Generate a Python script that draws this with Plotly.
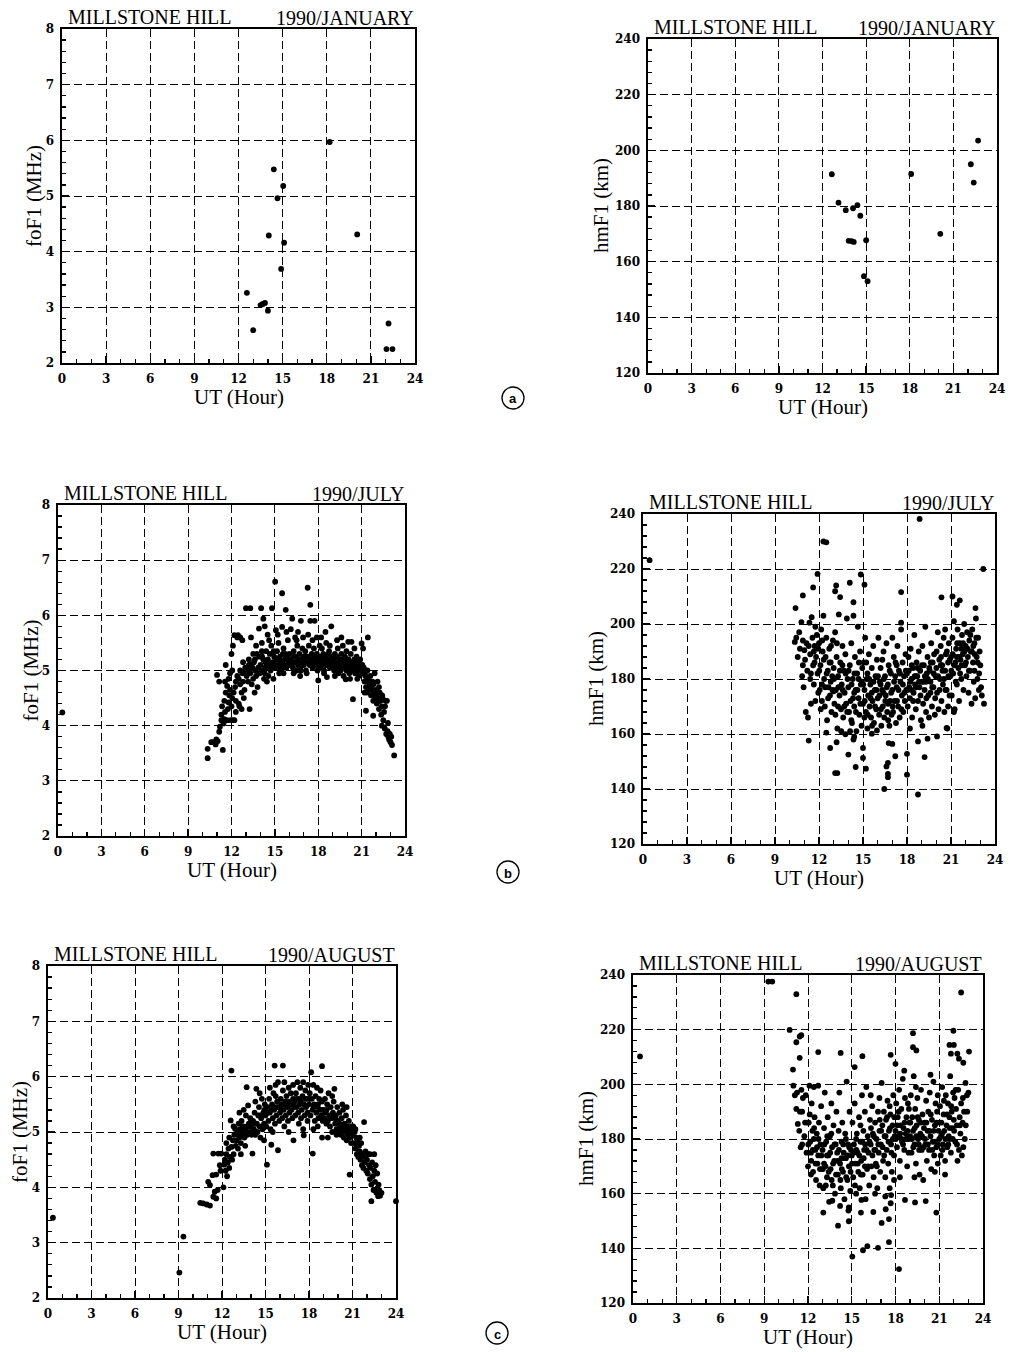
import plotly.graph_objects as go

W, H = 1012, 1352

# ---------------- DATA (UT hour, value) ----------------
JAN_FOF1 = [(18.2, 5.97), (14.4, 5.48), (15.04, 5.18), (14.65, 4.96), (14.06, 4.29),
            (15.1, 4.16), (20.07, 4.31), (14.9, 3.69), (12.57, 3.26), (13.5, 3.04),
            (13.65, 3.06), (13.8, 3.08), (14.0, 2.94), (13.0, 2.59), (22.2, 2.71),
            (22.06, 2.25), (22.47, 2.25)]

JAN_HMF1 = [(12.64, 191.4), (13.1, 181.2), (13.6, 178.5), (14.1, 179.2), (14.4, 180.3),
            (14.6, 176.5), (13.8, 167.5), (14.0, 167.4), (14.15, 167.1), (15.0, 167.7),
            (14.85, 154.8), (15.1, 153.0), (18.1, 191.5), (20.1, 170.0), (22.2, 195.0),
            (22.4, 188.4), (22.7, 203.5)]

JUL_FOF1 = [
    (0.3, 4.24),
    (10.35, 3.58), (10.35, 3.41), (10.6, 3.70), (10.75, 3.70), (10.9, 3.66), (10.95, 3.75),
    (11.05, 3.72), (11.15, 3.89), (11.2, 3.98), (11.3, 4.10), (11.4, 3.56), (11.3, 4.20),
    (11.35, 4.35), (11.15, 4.80), (11.0, 4.92),
    (11.45, 4.04), (11.5, 4.12), (11.55, 4.25), (11.5, 4.45), (11.6, 4.60), (11.55, 4.80),
    (11.7, 4.10), (11.75, 4.30), (11.8, 4.42), (11.85, 4.55), (11.9, 4.65), (11.7, 4.72),
    (11.8, 4.85), (11.9, 4.95), (11.95, 4.10), (12.0, 4.35), (12.05, 4.50), (12.0, 5.30),
    (12.1, 5.45), (12.05, 5.00), (11.6, 5.10),
    (12.1, 4.10), (12.2, 4.10), (12.3, 4.25), (12.15, 4.60), (12.25, 4.70), (12.3, 4.80),
    (12.4, 4.90), (12.5, 4.85), (12.6, 4.75), (12.7, 4.60), (12.5, 4.40), (12.55, 4.35),
    (12.6, 5.00), (12.75, 4.95), (12.8, 4.80), (12.85, 4.50), (12.9, 4.65), (12.95, 5.05),
    (12.4, 5.60), (12.6, 5.60), (12.75, 5.55), (12.8, 5.15), (12.2, 5.64), (12.45, 5.64),
    (12.3, 4.45), (12.7, 4.30), (12.9, 4.95),
    (13.0, 6.13), (13.3, 6.13), (13.05, 4.90), (13.1, 5.00), (13.15, 4.80), (13.2, 5.10),
    (13.25, 4.30), (13.3, 4.95), (13.4, 4.75), (13.45, 5.05), (13.5, 4.85), (13.55, 5.15),
    (13.6, 4.60), (13.65, 5.00), (13.7, 4.90), (13.75, 5.30), (13.8, 4.70), (13.85, 5.05),
    (13.9, 5.76), (13.95, 4.95), (13.5, 5.30), (13.35, 5.60), (13.2, 5.20), (13.7, 5.45),
    (14.0, 5.10), (13.12, 5.05), (13.32, 5.10), (13.62, 5.20), (13.92, 5.25),
    (14.05, 6.13), (14.2, 5.94), (14.1, 5.50), (14.15, 5.00), (14.2, 5.20), (14.3, 4.95),
    (14.35, 5.15), (14.4, 5.35), (14.45, 5.05), (14.5, 5.65), (14.55, 4.90), (14.6, 5.10),
    (14.65, 5.30), (14.7, 5.00), (14.75, 5.45), (14.8, 6.13), (14.85, 5.15), (14.9, 5.05),
    (14.95, 5.25), (14.3, 5.80), (14.6, 5.55), (14.25, 4.85), (14.45, 4.80), (14.9, 4.85),
    (14.1, 5.35), (14.12, 5.25), (14.32, 5.05), (14.52, 5.20), (14.72, 5.10), (14.92, 5.35),
    (15.02, 6.61), (15.07, 5.73), (15.1, 5.20), (15.15, 5.35), (15.2, 5.05), (15.25, 5.50),
    (15.3, 5.10), (15.35, 5.25), (15.4, 5.15), (15.45, 5.00), (15.5, 6.40), (15.5, 5.79),
    (15.55, 5.30), (15.6, 5.40), (15.65, 5.10), (15.7, 5.20), (15.75, 6.10), (15.8, 5.05),
    (15.85, 5.25), (15.9, 5.55), (15.95, 5.15), (15.3, 4.95), (15.6, 4.95), (15.2, 5.65),
    (15.8, 5.70), (15.12, 5.10), (15.32, 5.20), (15.52, 5.05), (15.72, 5.30), (15.92, 5.10),
    (16.0, 5.30), (16.05, 5.10), (16.1, 5.20), (16.2, 5.94), (16.25, 5.05), (16.3, 5.35),
    (16.35, 5.15), (16.4, 5.60), (16.45, 5.25), (16.5, 5.00), (16.55, 5.45), (16.6, 5.10),
    (16.65, 5.20), (16.7, 5.30), (16.8, 5.90), (16.8, 5.00), (16.85, 5.15), (16.9, 5.40),
    (16.95, 5.25), (16.1, 5.75), (16.6, 5.70), (16.3, 4.95), (16.75, 4.90), (16.5, 5.55),
    (16.95, 5.60), (16.12, 5.15), (16.32, 5.25), (16.52, 5.15), (16.72, 5.05), (16.92, 5.10),
    (17.0, 5.10), (17.05, 5.20), (17.1, 5.35), (17.15, 5.00), (17.2, 5.15), (17.27, 6.50),
    (17.3, 5.25), (17.35, 5.45), (17.4, 5.10), (17.45, 6.19), (17.45, 5.90), (17.5, 5.20),
    (17.55, 5.30), (17.6, 5.05), (17.65, 5.15), (17.75, 5.90), (17.7, 5.40), (17.8, 5.20),
    (17.85, 5.10), (17.9, 5.30), (17.95, 5.00), (17.3, 5.65), (17.6, 5.55), (17.9, 5.60),
    (17.2, 4.95), (17.12, 5.25), (17.32, 5.15), (17.52, 5.10), (17.72, 5.25), (17.92, 5.15),
    (18.0, 4.82), (18.05, 5.15), (18.1, 5.25), (18.15, 5.05), (18.2, 5.20), (18.25, 5.40),
    (18.3, 5.10), (18.35, 5.30), (18.4, 5.00), (18.45, 5.15), (18.5, 5.25), (18.55, 5.50),
    (18.6, 4.88), (18.65, 5.10), (18.7, 5.20), (18.75, 5.35), (18.8, 5.05), (18.85, 5.15),
    (18.9, 5.80), (18.95, 5.25), (18.2, 5.60), (18.5, 5.70), (18.4, 4.95), (18.8, 5.45),
    (18.1, 5.45), (18.12, 5.10), (18.32, 5.20), (18.52, 5.10), (18.72, 5.30), (18.92, 5.10),
    (19.0, 5.10), (19.05, 5.20), (19.1, 5.00), (19.15, 5.30), (19.2, 5.15), (19.25, 5.05),
    (19.3, 5.25), (19.35, 5.40), (19.4, 4.95), (19.45, 5.10), (19.5, 5.20), (19.55, 5.00),
    (19.6, 5.30), (19.65, 5.10), (19.7, 5.45), (19.75, 5.05), (19.8, 5.15), (19.85, 5.25),
    (19.9, 4.84), (19.95, 5.00), (19.3, 5.55), (19.6, 5.60), (19.15, 4.90), (19.75, 4.90),
    (19.95, 5.35), (19.12, 5.10), (19.32, 5.15), (19.52, 5.05), (19.72, 5.20), (19.92, 5.10),
    (20.07, 5.52), (20.3, 5.52), (20.0, 5.15), (20.05, 5.05), (20.1, 5.20), (20.15, 4.95),
    (20.2, 5.10), (20.25, 5.30), (20.3, 5.00), (20.35, 5.15), (20.4, 4.48), (20.45, 5.05),
    (20.5, 5.20), (20.55, 4.95), (20.6, 5.10), (20.65, 5.25), (20.7, 5.00), (20.75, 5.15),
    (20.8, 4.90), (20.85, 5.05), (20.9, 5.20), (20.95, 5.00), (20.5, 5.40), (20.2, 4.85),
    (20.7, 4.85), (20.12, 5.05), (20.32, 5.10), (20.52, 5.10), (20.72, 5.05), (20.92, 5.10),
    (21.0, 5.49), (21.1, 5.40), (21.43, 5.60), (21.05, 5.10), (21.1, 4.95), (21.15, 5.05),
    (21.2, 4.80), (21.25, 4.90), (21.3, 4.27), (21.3, 4.70), (21.35, 4.60), (21.4, 5.00),
    (21.45, 4.85), (21.5, 4.65), (21.55, 4.75), (21.6, 4.90), (21.65, 4.55), (21.7, 4.70),
    (21.75, 4.80), (21.8, 4.18), (21.8, 4.45), (21.85, 4.60), (21.9, 4.95), (21.95, 4.50),
    (21.2, 4.60), (21.02, 5.00), (21.22, 4.95), (21.42, 4.80), (21.62, 4.65), (21.82, 4.75),
    (22.0, 4.65), (22.05, 4.40), (22.1, 4.80), (22.15, 4.50), (22.2, 4.30), (22.25, 4.60),
    (22.3, 4.45), (22.35, 4.20), (22.4, 4.35), (22.45, 4.50), (22.5, 4.10), (22.55, 4.25),
    (22.6, 3.95), (22.65, 4.45), (22.7, 3.85), (22.75, 4.45), (22.8, 3.90), (22.85, 3.80),
    (22.9, 3.75), (22.95, 3.85), (23.0, 3.70), (23.05, 3.80), (23.1, 3.65), (23.25, 3.46),
    (22.4, 4.00), (22.2, 4.70), (22.02, 4.55), (22.22, 4.45), (22.42, 4.55), (22.62, 4.35),
    (22.82, 4.05)]

JUL_HMF1 = [
    (0.45, 223.2), (12.3, 230.0), (12.5, 229.7), (18.86, 238.2), (23.2, 220.0),
    (10.4, 205.8), (10.9, 210.4), (11.6, 213.3), (11.9, 218.2), (13.17, 214.0), (13.1, 211.9),
    (14.1, 215.0), (14.85, 218.0), (15.1, 214.3), (17.6, 211.6), (20.35, 209.7), (21.1, 210.0),
    (21.4, 207.0), (21.6, 208.6), (22.67, 205.8), (13.44, 209.8), (14.35, 207.9),
    (11.3, 157.6), (12.76, 154.9), (13.1, 145.8), (13.25, 145.8), (14.0, 152.5), (14.5, 148.0),
    (15.0, 154.9), (15.0, 151.3), (15.2, 147.4), (16.45, 140.0), (16.6, 148.2), (16.7, 149.5),
    (16.7, 145.5), (16.7, 144.3), (17.2, 151.9), (18.0, 152.8), (18.0, 145.2), (18.75, 138.0),
    (19.2, 151.6), (18.75, 157.3), (19.4, 158.3), (20.05, 159.1), (20.7, 162.2),
    (15.6, 160.1), (15.95, 161.3), (16.75, 156.7), (17.0, 156.4), (14.35, 158.0), (14.4, 159.0),
    (13.8, 159.9), (13.2, 157.0),
    (10.35, 193.5), (10.45, 195.0), (10.8, 200.7), (10.9, 194.0), (10.95, 177.0), (11.0, 190.5),
    (10.7, 191.0), (10.9, 185.0), (10.55, 188.0), (10.65, 197.0), (10.85, 181.0),
    (11.1, 168.0), (11.25, 166.0), (11.2, 183.0), (11.3, 192.0), (11.35, 200.5), (11.4, 189.0),
    (11.45, 182.0), (11.5, 202.5), (11.55, 195.0), (11.6, 185.0), (11.65, 178.0), (11.7, 192.0),
    (11.75, 172.0), (11.8, 188.0), (11.85, 196.0), (11.9, 182.0), (11.95, 175.0), (11.4, 180.0),
    (11.7, 186.0), (11.05, 187.0), (11.15, 193.0), (11.45, 171.0), (11.65, 190.0), (11.75, 199.0),
    (11.95, 191.0),
    (12.0, 193.0), (12.05, 176.0), (12.1, 185.0), (12.15, 198.0), (12.2, 172.0), (12.25, 190.0),
    (12.3, 203.0), (12.35, 180.0), (12.4, 170.0), (12.45, 188.0), (12.5, 195.0), (12.55, 165.0),
    (12.6, 183.0), (12.65, 177.0), (12.7, 191.0), (12.75, 174.0), (12.8, 186.0), (12.85, 168.0),
    (12.9, 181.0), (12.95, 194.0), (12.5, 160.5), (12.2, 178.0), (12.8, 179.0),
    (12.02, 183.0), (12.12, 169.0), (12.22, 194.0), (12.32, 187.0), (12.42, 177.0), (12.52, 182.0),
    (12.62, 173.0), (12.72, 186.0), (12.82, 192.0), (12.92, 176.0),
    (13.0, 184.0), (13.05, 171.0), (13.1, 197.0), (13.15, 176.0), (13.2, 188.0), (13.25, 162.0),
    (13.3, 181.0), (13.35, 203.5), (13.4, 174.0), (13.45, 186.0), (13.5, 169.0), (13.55, 178.0),
    (13.6, 192.0), (13.65, 166.0), (13.7, 183.0), (13.75, 175.0), (13.8, 189.0), (13.85, 171.0),
    (13.9, 202.0), (13.95, 180.0), (13.3, 170.0), (13.6, 185.0), (13.0, 175.5),
    (13.02, 180.0), (13.12, 167.0), (13.22, 193.0), (13.32, 177.0), (13.42, 183.0), (13.52, 161.0),
    (13.62, 176.0), (13.72, 170.0), (13.82, 182.0), (13.92, 168.0),
    (14.0, 177.0), (14.05, 168.0), (14.1, 185.0), (14.15, 172.0), (14.2, 193.0), (14.25, 164.0),
    (14.3, 180.0), (14.35, 203.0), (14.4, 170.0), (14.45, 188.0), (14.5, 176.0), (14.55, 161.0),
    (14.6, 182.0), (14.65, 199.0), (14.7, 173.0), (14.75, 167.0), (14.8, 190.0), (14.85, 178.0),
    (14.9, 163.0), (14.95, 184.0), (14.4, 175.0), (14.7, 180.0), (14.2, 165.0),
    (14.02, 183.0), (14.12, 161.0), (14.22, 178.0), (14.32, 173.0), (14.42, 182.0), (14.52, 168.0),
    (14.62, 176.0), (14.72, 186.0), (14.82, 171.0), (14.92, 179.0),
    (15.0, 171.0), (15.05, 186.0), (15.1, 176.0), (15.15, 195.0), (15.2, 168.0), (15.25, 180.0),
    (15.3, 162.0), (15.35, 174.0), (15.4, 189.0), (15.45, 170.0), (15.5, 178.0), (15.55, 166.0),
    (15.6, 184.0), (15.65, 172.0), (15.7, 192.0), (15.75, 164.0), (15.8, 176.0), (15.85, 181.0),
    (15.9, 169.0), (15.95, 187.0), (15.3, 182.0), (15.6, 175.0), (15.1, 166.0),
    (15.02, 178.0), (15.12, 172.0), (15.22, 186.0), (15.32, 167.0), (15.42, 180.0), (15.52, 173.0),
    (15.62, 163.0), (15.72, 179.0), (15.82, 170.0), (15.92, 176.0),
    (16.0, 173.0), (16.05, 195.0), (16.1, 167.0), (16.15, 179.0), (16.2, 184.0), (16.25, 163.0),
    (16.3, 176.0), (16.35, 170.0), (16.4, 190.0), (16.45, 166.0), (16.5, 181.0), (16.55, 174.0),
    (16.6, 193.0), (16.65, 168.0), (16.7, 178.0), (16.75, 185.0), (16.8, 163.0), (16.85, 172.0),
    (16.9, 182.0), (16.95, 167.0), (16.4, 175.0), (16.7, 171.0), (16.2, 178.0),
    (16.02, 181.0), (16.12, 174.0), (16.22, 169.0), (16.32, 187.0), (16.42, 180.0), (16.52, 172.0),
    (16.62, 177.0), (16.72, 165.0), (16.82, 183.0), (16.92, 175.0),
    (17.0, 176.0), (17.05, 168.0), (17.1, 188.0), (17.15, 172.0), (17.2, 181.0), (17.25, 164.0),
    (17.3, 177.0), (17.35, 192.0), (17.4, 170.0), (17.45, 183.0), (17.5, 166.0), (17.55, 179.0),
    (17.6, 200.5), (17.65, 174.0), (17.7, 186.0), (17.75, 168.0), (17.8, 181.0), (17.85, 172.0),
    (17.9, 189.0), (17.95, 176.0), (17.6, 198.0), (17.3, 185.0), (17.0, 195.0),
    (17.02, 170.0), (17.12, 179.0), (17.22, 186.0), (17.32, 172.0), (17.42, 176.0), (17.52, 182.0),
    (17.62, 169.0), (17.72, 178.0), (17.82, 175.0), (17.92, 183.0),
    (18.0, 182.0), (18.05, 170.0), (18.1, 188.0), (18.15, 177.0), (18.2, 173.0), (18.25, 191.0),
    (18.3, 180.0), (18.35, 166.0), (18.4, 184.0), (18.45, 175.0), (18.5, 196.0), (18.55, 178.0),
    (18.6, 169.0), (18.65, 186.0), (18.7, 181.0), (18.75, 172.0), (18.8, 190.0), (18.85, 177.0),
    (18.9, 183.0), (18.95, 165.0), (18.3, 176.0), (18.6, 181.0), (18.2, 162.0),
    (18.02, 176.0), (18.12, 183.0), (18.22, 179.0), (18.32, 185.0), (18.42, 172.0), (18.52, 181.0),
    (18.62, 177.0), (18.72, 184.0), (18.82, 179.0), (18.92, 174.0),
    (19.0, 179.0), (19.05, 192.0), (19.1, 171.0), (19.15, 185.0), (19.2, 176.0), (19.25, 199.0),
    (19.3, 168.0), (19.35, 182.0), (19.4, 188.0), (19.45, 174.0), (19.5, 166.0), (19.55, 183.0),
    (19.6, 179.0), (19.65, 193.0), (19.7, 170.0), (19.75, 186.0), (19.8, 177.0), (19.85, 189.0),
    (19.9, 167.0), (19.95, 181.0), (19.3, 179.0), (19.6, 175.0), (19.05, 163.0),
    (19.02, 185.0), (19.12, 179.0), (19.22, 181.0), (19.32, 173.0), (19.42, 180.0), (19.52, 184.0),
    (19.62, 186.0), (19.72, 177.0), (19.82, 182.0), (19.92, 173.0),
    (20.0, 184.0), (20.05, 175.0), (20.1, 197.0), (20.15, 169.0), (20.2, 187.0), (20.25, 180.0),
    (20.3, 192.0), (20.35, 172.0), (20.4, 185.0), (20.45, 178.0), (20.5, 195.0), (20.55, 168.0),
    (20.6, 183.0), (20.65, 189.0), (20.7, 176.0), (20.75, 162.0), (20.8, 186.0), (20.85, 193.0),
    (20.9, 174.0), (20.95, 181.0), (20.3, 185.0), (20.6, 198.0), (20.8, 170.0),
    (20.02, 190.0), (20.12, 181.0), (20.22, 176.0), (20.32, 188.0), (20.42, 183.0), (20.52, 180.0),
    (20.62, 176.0), (20.72, 190.0), (20.82, 181.0), (20.92, 187.0),
    (21.0, 188.0), (21.05, 174.0), (21.1, 195.0), (21.15, 182.0), (21.2, 201.0), (21.25, 169.0),
    (21.3, 186.0), (21.35, 191.0), (21.4, 178.0), (21.45, 198.0), (21.5, 184.0), (21.55, 172.0),
    (21.6, 193.0), (21.65, 187.0), (21.7, 180.0), (21.75, 196.0), (21.8, 189.0), (21.85, 176.0),
    (21.9, 200.0), (21.95, 185.0), (21.4, 188.0), (21.7, 191.0), (21.2, 168.0),
    (21.02, 183.0), (21.12, 189.0), (21.22, 185.0), (21.32, 179.0), (21.42, 193.0), (21.52, 188.0),
    (21.62, 182.0), (21.72, 185.0), (21.82, 193.0), (21.92, 190.0),
    (22.0, 192.0), (22.05, 181.0), (22.1, 197.0), (22.15, 188.0), (22.2, 175.0), (22.25, 194.0),
    (22.3, 183.0), (22.35, 190.0), (22.4, 171.0), (22.45, 198.0), (22.5, 186.0), (22.55, 179.0),
    (22.6, 193.0), (22.65, 173.0), (22.7, 202.0), (22.75, 188.0), (22.8, 180.0), (22.85, 195.0),
    (22.9, 176.0), (22.95, 190.0), (23.0, 185.0), (23.05, 177.0), (23.1, 174.0), (23.25, 171.0),
    (22.6, 183.0), (22.02, 186.0), (22.12, 191.0), (22.22, 183.0), (22.32, 196.0), (22.42, 190.0),
    (22.52, 192.0), (22.62, 189.0), (22.72, 195.0), (22.82, 186.0), (22.92, 182.0)]

AUG_FOF1 = [
    (0.34, 3.45), (9.06, 2.46), (9.34, 3.11), (24.0, 3.75),
    (10.5, 3.72), (10.7, 3.71), (10.95, 3.69), (11.17, 3.67), (11.05, 4.10), (11.17, 4.04),
    (11.4, 3.83), (11.6, 3.80), (11.5, 3.92), (11.35, 4.22), (11.6, 4.23), (11.4, 4.61),
    (11.75, 4.61), (11.95, 4.61), (11.85, 4.40), (11.7, 3.95), (11.9, 4.30),
    (12.15, 4.41), (12.1, 4.00), (12.2, 4.50), (12.25, 4.30), (12.3, 4.60), (12.35, 4.20),
    (12.4, 4.45), (12.45, 4.70), (12.5, 4.35), (12.55, 4.55), (12.6, 5.21), (12.65, 4.73),
    (12.65, 6.11), (12.7, 4.50), (12.75, 4.85), (12.8, 4.60), (12.85, 4.95), (12.9, 5.06),
    (12.95, 4.75), (12.5, 4.90), (12.3, 4.80), (12.8, 5.10),
    (13.0, 4.85), (13.05, 5.00), (13.1, 4.70), (13.15, 5.15), (13.2, 4.90), (13.25, 5.05),
    (13.3, 4.80), (13.35, 5.20), (13.4, 4.95), (13.45, 5.10), (13.5, 5.40), (13.55, 4.90),
    (13.6, 5.05), (13.65, 5.30), (13.7, 5.81), (13.75, 4.95), (13.8, 5.48), (13.85, 5.15),
    (13.9, 5.00), (13.95, 5.25), (13.3, 4.60), (13.6, 4.75), (13.2, 5.35),
    (13.12, 4.95), (13.42, 5.05), (13.72, 5.10),
    (14.0, 5.10), (14.05, 4.95), (14.1, 4.61), (14.15, 5.20), (14.2, 5.05), (14.25, 5.35),
    (14.3, 4.95), (14.37, 5.78), (14.4, 5.15), (14.45, 5.00), (14.5, 5.30), (14.55, 5.45),
    (14.6, 5.10), (14.65, 4.90), (14.7, 5.25), (14.75, 5.60), (14.8, 5.05), (14.85, 5.35),
    (14.9, 5.15), (14.95, 5.50), (14.3, 5.55), (14.6, 5.70), (14.9, 4.85),
    (14.02, 5.20), (14.32, 5.15), (14.62, 5.30), (14.92, 5.40),
    (15.0, 5.30), (15.05, 5.10), (15.1, 4.41), (15.15, 5.45), (15.2, 5.20), (15.25, 5.60),
    (15.3, 5.35), (15.35, 5.05), (15.4, 4.77), (15.45, 5.50), (15.5, 5.25), (15.55, 5.70),
    (15.6, 5.40), (15.63, 6.20), (15.65, 5.15), (15.7, 5.85), (15.75, 5.30), (15.8, 5.55),
    (15.86, 5.90), (15.86, 4.67), (15.9, 5.45), (15.95, 5.20), (15.3, 5.80), (15.5, 5.00),
    (15.7, 5.65), (15.12, 5.35), (15.42, 5.40), (15.72, 5.45),
    (16.0, 5.35), (16.05, 5.60), (16.1, 5.50), (16.15, 5.25), (16.2, 6.20), (16.2, 5.75),
    (16.25, 5.40), (16.3, 5.90), (16.35, 5.55), (16.4, 5.30), (16.45, 5.65), (16.5, 5.45),
    (16.55, 5.20), (16.6, 5.80), (16.65, 5.35), (16.7, 5.50), (16.75, 5.70), (16.8, 5.40),
    (16.85, 5.25), (16.9, 5.60), (16.93, 4.85), (16.95, 5.45), (16.3, 5.10), (16.6, 5.00),
    (16.9, 5.85), (16.02, 5.45), (16.32, 5.50), (16.62, 5.55), (16.92, 5.50),
    (17.0, 5.55), (17.05, 5.30), (17.1, 5.70), (17.15, 5.45), (17.2, 5.90), (17.25, 5.35),
    (17.3, 5.60), (17.35, 5.50), (17.4, 5.80), (17.45, 5.25), (17.5, 5.40), (17.55, 5.65),
    (17.6, 5.90), (17.64, 4.94), (17.65, 5.50), (17.7, 5.30), (17.75, 5.75), (17.8, 5.45),
    (17.85, 5.60), (17.9, 5.35), (17.95, 5.85), (17.3, 5.15), (17.6, 5.05), (17.9, 5.20),
    (17.12, 5.60), (17.42, 5.55), (17.72, 5.60),
    (18.0, 5.50), (18.05, 5.70), (18.1, 5.30), (18.15, 6.08), (18.2, 5.60), (18.26, 4.61),
    (18.25, 5.40), (18.3, 5.85), (18.35, 5.50), (18.4, 5.20), (18.45, 5.65), (18.5, 5.35),
    (18.55, 5.80), (18.6, 5.45), (18.65, 5.25), (18.7, 5.60), (18.75, 5.40), (18.8, 5.75),
    (18.85, 5.30), (18.9, 6.19), (18.9, 5.55), (18.95, 5.20), (18.3, 5.05), (18.6, 5.10),
    (18.9, 4.90), (18.02, 5.60), (18.32, 5.45), (18.62, 5.50), (18.92, 5.40),
    (19.0, 5.40), (19.05, 5.25), (19.1, 5.60), (19.15, 5.35), (19.2, 5.15), (19.25, 5.50),
    (19.3, 5.20), (19.35, 5.70), (19.4, 5.30), (19.45, 5.10), (19.5, 5.45), (19.55, 5.25),
    (19.6, 5.00), (19.65, 5.35), (19.7, 5.55), (19.75, 5.78), (19.8, 5.15), (19.85, 5.30),
    (19.9, 5.05), (19.95, 5.45), (19.3, 4.90), (19.6, 5.65), (19.9, 4.95),
    (19.22, 5.40), (19.52, 5.30), (19.82, 5.25),
    (20.0, 5.20), (20.05, 5.00), (20.1, 5.35), (20.15, 5.10), (20.2, 4.95), (20.25, 5.25),
    (20.3, 5.05), (20.35, 5.40), (20.4, 4.90), (20.45, 5.15), (20.5, 5.00), (20.55, 5.30),
    (20.6, 4.85), (20.65, 5.10), (20.7, 4.95), (20.75, 5.20), (20.8, 4.23), (20.8, 4.90),
    (20.85, 5.05), (20.9, 4.80), (20.95, 5.10), (20.3, 5.50), (20.6, 5.45),
    (20.12, 5.15), (20.42, 5.10), (20.72, 5.05),
    (21.0, 4.95), (21.05, 5.10), (21.1, 4.80), (21.15, 5.00), (21.2, 4.70), (21.25, 4.90),
    (21.3, 4.60), (21.35, 4.85), (21.4, 4.55), (21.45, 4.75), (21.5, 4.65), (21.55, 4.50),
    (21.6, 4.80), (21.65, 4.40), (21.7, 4.60), (21.75, 4.35), (21.8, 5.18), (21.8, 4.55),
    (21.85, 4.45), (21.9, 4.65), (21.95, 4.30), (21.2, 5.05), (21.5, 4.90),
    (21.02, 5.05), (21.32, 4.75), (21.62, 4.60),
    (22.0, 4.50), (22.05, 4.25), (22.1, 4.60), (22.15, 4.40), (22.2, 4.15), (22.25, 4.35),
    (22.3, 3.75), (22.3, 4.05), (22.35, 4.45), (22.4, 4.20), (22.45, 3.95), (22.5, 4.30),
    (22.55, 4.10), (22.6, 4.40), (22.65, 3.90), (22.7, 3.98), (22.7, 4.25), (22.77, 3.84),
    (22.8, 4.05), (22.85, 3.95), (22.9, 3.85), (23.0, 3.90), (22.2, 4.60), (22.5, 4.60)]

AUG_HMF1 = [
    (0.48, 210.2), (9.28, 237.6), (9.55, 237.6), (11.2, 233.0), (22.5, 233.6),
    (10.74, 219.9), (11.2, 215.4), (11.43, 217.5), (11.54, 218.0), (10.97, 205.4),
    (11.43, 209.7), (12.7, 211.8), (14.24, 211.5), (15.2, 206.3), (15.73, 210.3),
    (17.67, 210.8), (18.0, 207.5), (19.2, 218.7), (19.2, 213.6), (19.43, 212.4),
    (21.97, 219.6), (21.7, 214.4), (22.0, 214.4), (21.8, 211.2), (22.24, 211.2),
    (22.65, 207.9), (23.04, 212.0), (22.35, 209.4),
    (13.05, 153.1), (14.06, 148.3), (14.8, 149.9), (15.04, 137.0), (15.77, 139.3),
    (16.07, 140.8), (16.8, 140.2), (17.55, 142.3), (18.24, 132.4), (17.55, 150.7),
    (17.05, 149.3), (20.8, 153.1), (18.65, 157.7), (19.34, 156.8), (20.07, 157.3),
    (13.67, 157.4), (14.2, 155.5), (14.77, 153.8), (15.63, 153.1), (16.48, 153.3),
    (17.33, 154.3), (17.67, 156.5), (17.7, 159.5), (15.66, 157.7),
    (11.0, 199.5), (11.1, 196.0), (11.2, 191.0), (11.25, 197.0), (11.4, 183.0), (11.5, 177.0),
    (11.55, 198.0), (11.6, 190.0), (11.75, 181.0), (11.85, 196.0), (11.9, 175.0), (11.95, 186.0),
    (11.3, 185.5), (11.6, 178.0), (11.45, 190.0), (11.65, 195.0), (11.8, 186.0),
    (12.0, 170.0), (12.05, 186.0), (12.1, 199.5), (12.15, 179.0), (12.2, 175.0), (12.25, 193.0),
    (12.3, 183.0), (12.35, 168.0), (12.4, 199.0), (12.45, 188.0), (12.5, 176.0), (12.55, 165.0),
    (12.6, 182.0), (12.65, 171.0), (12.7, 199.5), (12.75, 186.0), (12.8, 163.0), (12.85, 178.0),
    (12.9, 192.0), (12.95, 169.0), (12.4, 180.0), (12.7, 174.0), (12.2, 167.0),
    (12.02, 178.0), (12.12, 189.0), (12.22, 172.0), (12.32, 176.0), (12.42, 184.0), (12.52, 171.0),
    (12.62, 177.0), (12.72, 180.0), (12.82, 169.0), (12.92, 174.0),
    (13.0, 176.0), (13.05, 162.0), (13.1, 184.0), (13.15, 197.0), (13.2, 170.0), (13.25, 179.0),
    (13.3, 166.0), (13.35, 188.0), (13.4, 174.0), (13.45, 157.0), (13.5, 181.0), (13.55, 169.0),
    (13.6, 193.0), (13.65, 177.0), (13.7, 163.0), (13.75, 185.0), (13.8, 172.0), (13.85, 160.0),
    (13.9, 178.0), (13.95, 190.0), (13.3, 174.0), (13.6, 182.0), (13.1, 171.0),
    (13.02, 169.0), (13.12, 178.0), (13.22, 163.0), (13.32, 181.0), (13.42, 168.0), (13.52, 175.0),
    (13.62, 165.0), (13.72, 171.0), (13.82, 178.0), (13.92, 167.0),
    (14.0, 175.0), (14.05, 167.0), (14.1, 183.0), (14.15, 197.0), (14.2, 171.0), (14.25, 162.0),
    (14.3, 179.0), (14.35, 186.0), (14.4, 168.0), (14.45, 175.0), (14.5, 158.0), (14.55, 182.0),
    (14.6, 173.0), (14.65, 201.0), (14.7, 165.0), (14.75, 178.0), (14.8, 170.0), (14.85, 190.0),
    (14.9, 161.0), (14.95, 176.0), (14.3, 173.0), (14.6, 180.0), (14.8, 155.0),
    (14.02, 172.0), (14.12, 176.0), (14.22, 165.0), (14.32, 169.0), (14.42, 178.0), (14.52, 173.0),
    (14.62, 166.0), (14.72, 174.0), (14.82, 177.0), (14.92, 168.0),
    (15.0, 174.0), (15.05, 186.0), (15.1, 166.0), (15.15, 178.0), (15.2, 193.0), (15.25, 171.0),
    (15.3, 160.0), (15.35, 182.0), (15.4, 175.0), (15.45, 168.0), (15.5, 188.0), (15.55, 162.0),
    (15.6, 179.0), (15.65, 172.0), (15.7, 196.0), (15.75, 167.0), (15.8, 183.0), (15.85, 176.0),
    (15.9, 170.0), (15.95, 158.0), (15.3, 180.0), (15.6, 185.0), (15.9, 190.0),
    (15.02, 171.0), (15.12, 175.0), (15.22, 163.0), (15.32, 176.0), (15.42, 171.0), (15.52, 174.0),
    (15.62, 167.0), (15.72, 179.0), (15.82, 173.0), (15.92, 178.0),
    (16.0, 199.0), (16.05, 169.0), (16.1, 181.0), (16.15, 175.0), (16.2, 163.0), (16.25, 187.0),
    (16.3, 178.0), (16.35, 170.0), (16.4, 192.0), (16.45, 182.0), (16.5, 166.0), (16.55, 176.0),
    (16.6, 186.0), (16.65, 171.0), (16.7, 180.0), (16.75, 162.0), (16.8, 190.0), (16.85, 175.0),
    (16.9, 183.0), (16.95, 168.0), (16.3, 196.0), (16.6, 160.0), (16.9, 195.0),
    (16.02, 176.0), (16.12, 170.0), (16.22, 179.0), (16.32, 184.0), (16.42, 174.0), (16.52, 181.0),
    (16.62, 176.0), (16.72, 170.0), (16.82, 178.0), (16.92, 187.0),
    (17.0, 178.0), (17.05, 200.5), (17.1, 185.0), (17.15, 172.0), (17.2, 190.0), (17.25, 181.0),
    (17.3, 166.0), (17.35, 187.0), (17.4, 176.0), (17.45, 194.0), (17.5, 171.0), (17.55, 183.0),
    (17.6, 162.0), (17.65, 189.0), (17.7, 178.0), (17.75, 168.0), (17.8, 185.0), (17.85, 196.0),
    (17.9, 174.0), (17.95, 181.0), (17.3, 159.0), (17.6, 192.0), (17.9, 165.0),
    (17.02, 183.0), (17.12, 177.0), (17.22, 174.0), (17.32, 181.0), (17.42, 188.0), (17.52, 179.0),
    (17.62, 184.0), (17.72, 175.0), (17.82, 180.0), (17.92, 188.0),
    (18.0, 183.0), (18.05, 193.0), (18.1, 177.0), (18.15, 188.0), (18.2, 181.0), (18.25, 198.0),
    (18.3, 172.0), (18.35, 185.0), (18.4, 191.0), (18.45, 179.0), (18.5, 202.0), (18.55, 184.0),
    (18.6, 176.0), (18.65, 195.0), (18.7, 182.0), (18.75, 188.0), (18.8, 170.0), (18.85, 193.0),
    (18.9, 180.0), (18.95, 186.0), (18.3, 166.0), (18.6, 205.0), (18.9, 175.0),
    (18.02, 180.0), (18.12, 185.0), (18.22, 190.0), (18.32, 182.0), (18.42, 180.0), (18.52, 178.0),
    (18.62, 186.0), (18.72, 180.0), (18.82, 183.0), (18.92, 191.0),
    (19.0, 181.0), (19.05, 196.0), (19.1, 175.0), (19.15, 188.0), (19.2, 183.0), (19.25, 203.0),
    (19.3, 178.0), (19.35, 191.0), (19.4, 171.0), (19.45, 185.0), (19.5, 195.0), (19.55, 180.0),
    (19.6, 187.0), (19.65, 167.0), (19.7, 182.0), (19.75, 198.0), (19.8, 176.0), (19.85, 189.0),
    (19.9, 165.0), (19.95, 184.0), (19.3, 166.0), (19.6, 178.0), (19.4, 199.0),
    (19.02, 186.0), (19.12, 180.0), (19.22, 177.0), (19.32, 184.0), (19.42, 181.0), (19.52, 188.0),
    (19.62, 176.0), (19.72, 186.0), (19.82, 181.0), (19.92, 177.0),
    (20.0, 186.0), (20.05, 178.0), (20.1, 194.0), (20.15, 172.0), (20.2, 183.0), (20.25, 190.0),
    (20.3, 176.0), (20.35, 197.0), (20.4, 181.0), (20.45, 169.0), (20.5, 187.0), (20.55, 179.0),
    (20.6, 201.0), (20.65, 174.0), (20.7, 185.0), (20.75, 193.0), (20.8, 177.0), (20.85, 190.0),
    (20.9, 171.0), (20.95, 183.0), (20.4, 203.5), (20.7, 168.0), (20.9, 196.0),
    (20.02, 180.0), (20.12, 186.0), (20.22, 178.0), (20.32, 183.0), (20.42, 189.0), (20.52, 176.0),
    (20.62, 183.0), (20.72, 179.0), (20.82, 186.0), (20.92, 178.0),
    (21.0, 180.0), (21.05, 192.0), (21.1, 174.0), (21.15, 186.0), (21.2, 199.0), (21.25, 178.0),
    (21.3, 189.0), (21.35, 183.0), (21.4, 172.0), (21.45, 196.0), (21.5, 185.0), (21.55, 177.0),
    (21.6, 193.0), (21.65, 181.0), (21.7, 188.0), (21.75, 203.0), (21.8, 175.0), (21.85, 190.0),
    (21.9, 184.0), (21.95, 197.0), (21.4, 167.0), (21.2, 182.0), (21.7, 180.0),
    (21.02, 186.0), (21.12, 181.0), (21.22, 176.0), (21.32, 194.0), (21.42, 180.0), (21.52, 189.0),
    (21.62, 178.0), (21.72, 184.0), (21.82, 192.0), (21.92, 180.0),
    (22.0, 187.0), (22.05, 195.0), (22.1, 179.0), (22.15, 191.0), (22.2, 185.0), (22.3, 198.0),
    (22.35, 176.0), (22.4, 188.0), (22.45, 182.0), (22.5, 193.0), (22.55, 174.0), (22.6, 186.0),
    (22.7, 190.0), (22.75, 180.0), (22.8, 200.5), (22.9, 196.0), (23.0, 197.0), (22.25, 172.0),
    (22.65, 177.0), (22.02, 183.0), (22.12, 198.0), (22.22, 178.0), (22.42, 185.0), (22.62, 195.0),
    (22.82, 185.0), (22.92, 190.0)]

UT_TICKS = [0, 3, 6, 9, 12, 15, 18, 21, 24]
FOF1_TICKS = [2, 3, 4, 5, 6, 7, 8]
HMF1_TICKS = [120, 140, 160, 180, 200, 220, 240]

STATION = "MILLSTONE HILL"
MONTHS = ["1990/JANUARY", "1990/JULY", "1990/AUGUST"]
PANEL_LETTERS = ["a", "b", "c"]

# ---------------- LAYOUT (page pixel boxes of plot areas) ----------------
def px(x):
    return x / W

def py(y):
    return 1 - y / H

# (left, top, right, bottom) in page pixels
BOXES = [
    (62, 29, 415, 363), (648, 39, 997, 373),
    (58, 505, 405, 836), (643, 514, 995, 844),
    (48, 966, 396, 1298), (633, 975, 983, 1303),
]
PANELS = [
    (JAN_FOF1, "foF1"), (JAN_HMF1, "hmF1"),
    (JUL_FOF1, "foF1"), (JUL_HMF1, "hmF1"),
    (AUG_FOF1, "foF1"), (AUG_HMF1, "hmF1"),
]

SERIF = "Liberation Serif, Times New Roman, serif"
TICK_FONT = "DejaVu Serif, serif"

fig = go.Figure()
layout = dict(
    width=W, height=H, margin=dict(l=0, r=0, t=0, b=0, pad=0),
    paper_bgcolor="white", plot_bgcolor="white", showlegend=False,
    font=dict(family=SERIF, color="black"),
)
annotations = []
shapes = []

for i, ((data, kind), box) in enumerate(zip(PANELS, BOXES)):
    n = i + 1
    xa = "xaxis" if n == 1 else f"xaxis{n}"
    ya = "yaxis" if n == 1 else f"yaxis{n}"
    xref = "x" if n == 1 else f"x{n}"
    yref = "y" if n == 1 else f"y{n}"
    l, t, r, b = box
    xs = [p[0] for p in data]
    ys = [p[1] for p in data]
    fig.add_trace(go.Scatter(
        x=xs, y=ys, mode="markers", xaxis=xref, yaxis=yref,
        marker=dict(color="black", size=5.8, line=dict(width=0)),
        cliponaxis=False, hoverinfo="skip"))

    common = dict(
        showline=True, linecolor="black", linewidth=1.6, mirror=True,
        showgrid=True, gridcolor="black", gridwidth=1, griddash="8px,4px",
        zeroline=False, ticks="inside", ticklen=7, tickwidth=1.3, tickcolor="black",
        tickfont=dict(family=TICK_FONT, size=12, color="black", weight="bold"),
        automargin=False, fixedrange=True,
    )
    layout[xa] = dict(
        common, domain=[px(l), px(r)], anchor=yref, range=[0, 24],
        tickvals=UT_TICKS, ticktext=[str(v) for v in UT_TICKS],
        ticklabelstandoff=4,
        minor=dict(dtick=1, tick0=0, ticks="inside", ticklen=4, tickcolor="black", showgrid=False),
    )
    if kind == "foF1":
        yr, yt, ymin = [2, 8], FOF1_TICKS, 0.2
        ytitle, tdx = "foF1 (MHz)", 28
    else:
        yr, yt, ymin = [120, 240], HMF1_TICKS, 4
        ytitle, tdx = "hmF1 (km)", 47
    layout[ya] = dict(
        common, domain=[py(b), py(t)], anchor=xref, range=yr,
        tickvals=yt, ticktext=[str(v) for v in yt],
        ticklabelstandoff=4,
        minor=dict(dtick=ymin, tick0=yr[0], ticks="inside", ticklen=4, tickcolor="black", showgrid=False),
    )

    # panel header
    month = MONTHS[i // 2]
    annotations.append(dict(
        text=STATION, xref="paper", yref="paper", x=px(l + 4), y=py(t - 12),
        xanchor="left", yanchor="middle", showarrow=False,
        font=dict(family=SERIF, size=20, color="black")))
    annotations.append(dict(
        text=month, xref="paper", yref="paper", x=px(r + 1), y=py(t - 11),
        xanchor="right", yanchor="middle", showarrow=False,
        font=dict(family=SERIF, size=20, color="black")))
    # axis titles (kept inside the page)
    annotations.append(dict(
        text="UT (Hour)", xref="paper", yref="paper", x=px((l + r) / 2),
        y=py(min(b + 34, H - 14)),
        xanchor="center", yanchor="middle", showarrow=False,
        font=dict(family=SERIF, size=21, color="black")))
    annotations.append(dict(
        text=ytitle, xref="paper", yref="paper", x=px(l - tdx), y=py((t + b) / 2),
        xanchor="center", yanchor="middle", showarrow=False, textangle=-90,
        font=dict(family=SERIF, size=21, color="black")))

# circled panel letters
LETTER_POS = [(513, 398), (508, 872), (497, 1333)]
for letter, (cx, cy) in zip(PANEL_LETTERS, LETTER_POS):
    rad = 11
    shapes.append(dict(type="circle", xref="paper", yref="paper",
                       x0=px(cx - rad), x1=px(cx + rad), y0=py(cy + rad), y1=py(cy - rad),
                       line=dict(color="black", width=1.3)))
    annotations.append(dict(
        text=f"<b>{letter}</b>", xref="paper", yref="paper", x=px(cx), y=py(cy + 1),
        xanchor="center", yanchor="middle", showarrow=False,
        font=dict(family="Liberation Sans, Arial, sans-serif", size=13, color="black")))

layout["annotations"] = annotations
layout["shapes"] = shapes
fig.update_layout(**layout)
fig.write_html("out.html", config={"displayModeBar": False, "staticPlot": True},
               post_script="document.body.style.margin='0px';document.body.style.overflow='hidden';")
